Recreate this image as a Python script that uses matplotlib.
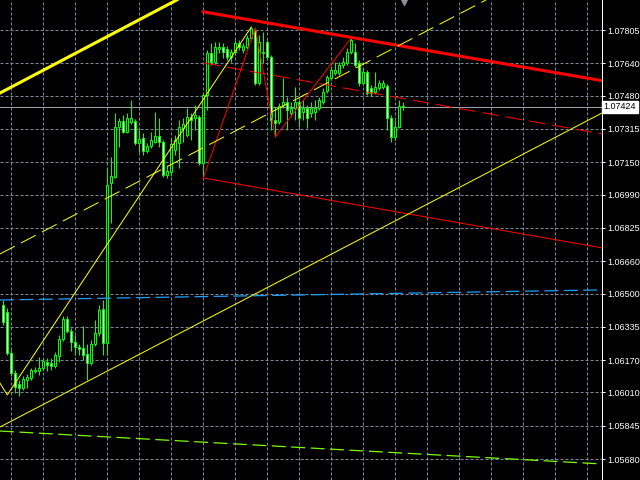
import numpy as np
import matplotlib
matplotlib.use('Agg')
import matplotlib.pyplot as plt
import matplotlib.transforms as mtransforms

plt.rcParams['font.family'] = ['Liberation Sans', 'DejaVu Sans']
plt.rcParams['lines.scale_dashes'] = False

# ------------------------------
# 1. Candle data (EURUSD style, one bar per index)
# ------------------------------
opens = [1.06443, 1.06409, 1.06206, 1.06107, 1.06052, 1.06032, 1.06072, 1.06082, 1.06116, 1.06116,
         1.06131, 1.06161, 1.06156, 1.06141, 1.06191, 1.06275, 1.06374, 1.06315, 1.06260, 1.06235,
         1.06230, 1.06201, 1.06156, 1.06250, 1.06305, 1.06424, 1.06255, 1.07048, 1.07077, 1.07325,
         1.07355, 1.07300, 1.07350, 1.07355, 1.07246, 1.07271, 1.07206, 1.07231, 1.07251, 1.07280,
         1.07251, 1.07087, 1.07102, 1.07211, 1.07246, 1.07320, 1.07285, 1.07375, 1.07370, 1.07375,
         1.07147, 1.07483, 1.07691, 1.07647, 1.07711, 1.07721, 1.07711, 1.07672, 1.07696, 1.07741,
         1.07706, 1.07721, 1.07766, 1.07805, 1.07543, 1.07696, 1.07746, 1.07672, 1.07360, 1.07350,
         1.07434, 1.07449, 1.07394, 1.07419, 1.07449, 1.07399, 1.07419, 1.07394, 1.07399, 1.07419,
         1.07449, 1.07503, 1.07568, 1.07592, 1.07592, 1.07632, 1.07642, 1.07696, 1.07696, 1.07642,
         1.07543, 1.07597, 1.07518, 1.07498, 1.07518, 1.07523, 1.07528, 1.07370, 1.07276, 1.07325,
         1.07429]
highs = [1.06468, 1.06428, 1.06220, 1.06121, 1.06072, 1.06092, 1.06102, 1.06131, 1.06136, 1.06186,
         1.06176, 1.06181, 1.06181, 1.06210, 1.06295, 1.06389, 1.06389, 1.06329, 1.06295, 1.06250,
         1.06339, 1.06250, 1.06270, 1.06369, 1.06443, 1.06468, 1.07122, 1.07176, 1.07394, 1.07370,
         1.07384, 1.07394, 1.07459, 1.07365, 1.07310, 1.07295, 1.07246, 1.07300, 1.07399, 1.07370,
         1.07261, 1.07137, 1.07271, 1.07285, 1.07360, 1.07370, 1.07419, 1.07394, 1.07434, 1.07384,
         1.07493, 1.07706, 1.07741, 1.07746, 1.07746, 1.07741, 1.07726, 1.07711, 1.07756, 1.07756,
         1.07741, 1.07781, 1.07820, 1.07815, 1.07781, 1.07795, 1.07756, 1.07681, 1.07424, 1.07444,
         1.07568, 1.07474, 1.07449, 1.07523, 1.07459, 1.07459, 1.07434, 1.07449, 1.07459, 1.07474,
         1.07518, 1.07583, 1.07627, 1.07647, 1.07647, 1.07672, 1.07716, 1.07766, 1.07741, 1.07657,
         1.07617, 1.07607, 1.07533, 1.07597, 1.07558, 1.07558, 1.07538, 1.07384, 1.07360, 1.07459,
         1.07449]
lows = [1.06344, 1.06196, 1.06092, 1.06008, 1.05993, 1.06022, 1.06032, 1.06072, 1.06107, 1.06097,
        1.06121, 1.06116, 1.06121, 1.06131, 1.06161, 1.06265, 1.06305, 1.06215, 1.06196, 1.06196,
        1.06171, 1.06072, 1.06146, 1.06240, 1.06290, 1.06196, 1.06196, 1.06850, 1.07072, 1.07226,
        1.07295, 1.07295, 1.07340, 1.07236, 1.07201, 1.07186, 1.07196, 1.07221, 1.07246, 1.07226,
        1.07077, 1.07072, 1.07082, 1.07186, 1.07122, 1.07251, 1.07276, 1.07261, 1.07310, 1.07137,
        1.07072, 1.07409, 1.07632, 1.07637, 1.07691, 1.07667, 1.07657, 1.07647, 1.07681, 1.07706,
        1.07691, 1.07711, 1.07756, 1.07533, 1.07533, 1.07642, 1.07657, 1.07310, 1.07276, 1.07340,
        1.07419, 1.07310, 1.07380, 1.07360, 1.07325, 1.07360, 1.07320, 1.07375, 1.07360, 1.07409,
        1.07439, 1.07493, 1.07558, 1.07583, 1.07583, 1.07617, 1.07632, 1.07686, 1.07622, 1.07528,
        1.07533, 1.07483, 1.07478, 1.07488, 1.07508, 1.07513, 1.07310, 1.07251, 1.07261, 1.07320,
        1.07409]
closes = [1.06359, 1.06206, 1.06107, 1.06037, 1.06032, 1.06077, 1.06087, 1.06121, 1.06121, 1.06131,
          1.06166, 1.06146, 1.06141, 1.06196, 1.06275, 1.06374, 1.06315, 1.06260, 1.06235, 1.06225,
          1.06196, 1.06156, 1.06250, 1.06305, 1.06419, 1.06255, 1.07038, 1.07082, 1.07325, 1.07355,
          1.07300, 1.07370, 1.07370, 1.07246, 1.07266, 1.07206, 1.07231, 1.07261, 1.07280, 1.07251,
          1.07087, 1.07107, 1.07241, 1.07261, 1.07325, 1.07340, 1.07375, 1.07360, 1.07384, 1.07147,
          1.07483, 1.07691, 1.07647, 1.07721, 1.07721, 1.07696, 1.07672, 1.07696, 1.07741, 1.07721,
          1.07726, 1.07766, 1.07815, 1.07543, 1.07746, 1.07691, 1.07672, 1.07360, 1.07345, 1.07429,
          1.07449, 1.07409, 1.07419, 1.07449, 1.07370, 1.07419, 1.07370, 1.07419, 1.07419, 1.07459,
          1.07498, 1.07573, 1.07607, 1.07607, 1.07632, 1.07647, 1.07696, 1.07756, 1.07632, 1.07543,
          1.07597, 1.07493, 1.07493, 1.07523, 1.07543, 1.07543, 1.07370, 1.07276, 1.07325, 1.07429,
          1.07424]

current_price = 1.07424
price_ticks = [1.07805, 1.07640, 1.07480, 1.07315, 1.07150, 1.06990, 1.06825,
               1.06660, 1.06500, 1.06335, 1.06170, 1.06010, 1.05845, 1.05680]
price_labels = ['1.07805', '1.07640', '1.07480', '1.07315', '1.07150', '1.06990', '1.06825',
                '1.06660', '1.06500', '1.06335', '1.06170', '1.06010', '1.05845', '1.05680']

# ------------------------------
# 2. Drawn objects (bar index, price)
# ------------------------------
yellow_thick_x = [-0.83, 43.4]
yellow_thick_y = [1.07493, 1.07954]
red_thick_x = [50, 149.7]
red_thick_y = [1.07895, 1.07554]
red_mid_x = [50, 149.7]
red_mid_y = [1.07642, 1.07290]
red_low_x = [50, 149.7]
red_low_y = [1.07072, 1.06726]
red_zigzag_x = [50, 63, 68, 87]
red_zigzag_y = [1.07072, 1.07815, 1.07276, 1.07766]
yellow_zigzag_x = [-0.83, 1, 62]
yellow_zigzag_y = [1.06056, 1.05998, 1.07820]
yellow_dash_x = [-0.83, 120.7]
yellow_dash_y = [1.06696, 1.07954]
yellow_trend_x = [-0.83, 149.67]
yellow_trend_y = [1.05839, 1.07394]
blue_x = [-0.83, 149.67]
blue_y = [1.06468, 1.06518]
green_x = [-0.83, 149.67]
green_y = [1.05819, 1.05656]

# ------------------------------
# 3. Plot
# ------------------------------
fig = plt.figure(figsize=(6.4, 4.8), dpi=100, facecolor='black')
ax = fig.add_axes([0, 0, 602 / 640, 1])
ax.set_facecolor('black')

o = np.array(opens)
c = np.array(closes)
x = np.arange(len(o))
faces = ['black' if cc >= oo else 'white' for oo, cc in zip(o, c)]

ax.axhline(current_price, color='#a0a0a0', linewidth=0.72, zorder=1)
ax.vlines(x, lows, highs, color='#00ff00', linewidth=0.72, zorder=2)
ax.bar(x, np.abs(c - o), bottom=np.minimum(o, c), width=0.5, color=faces,
       edgecolor='#00ff00', linewidth=0.72, zorder=3)

ax.plot(yellow_thick_x, yellow_thick_y, color='#ffff00', linewidth=2.2, zorder=4)
ax.plot(red_thick_x, red_thick_y, color='#ff0000', linewidth=2.2, zorder=4)
ax.plot(red_mid_x, red_mid_y, color='#ff0000', linewidth=0.72, dashes=(12, 5), zorder=4)
ax.plot(red_low_x, red_low_y, color='#ff0000', linewidth=0.72, zorder=4)
ax.plot(red_zigzag_x, red_zigzag_y, color='#ff0000', linewidth=0.72, zorder=4)
ax.plot(yellow_zigzag_x, yellow_zigzag_y, color='#ffff00', linewidth=0.72, zorder=4)
ax.plot(yellow_dash_x, yellow_dash_y, color='#ffff00', linewidth=0.72, dashes=(12, 5), zorder=4)
ax.plot(yellow_trend_x, yellow_trend_y, color='#ffff00', linewidth=0.72, zorder=4)
ax.plot(blue_x, blue_y, color='#1ea0ff', linewidth=0.9, dashes=(10, 4), zorder=4)
ax.plot(green_x, green_y, color='#7cfc00', linewidth=0.9, dashes=(10, 4), zorder=4)

# axes / grid
ax.set_xlim(-0.83, 149.67)
ax.set_ylim(1.055766, 1.079536)
ax.set_xticks(np.arange(2, 150, 8))
ax.yaxis.tick_right()
ax.set_yticks(price_ticks)
ax.set_yticklabels(price_labels)
ax.tick_params(axis='x', length=0, labelbottom=False)
ax.tick_params(axis='y', colors='white', length=2.5, width=0.72, pad=1.2, labelsize=6.5)
ax.grid(color='#7a8898', linestyle=(0, (2.2, 1.4)), linewidth=0.72, zorder=0)
ax.set_axisbelow(True)
for side in ['top', 'left', 'bottom']:
    ax.spines[side].set_visible(False)
ax.spines['right'].set_color('white')
ax.spines['right'].set_linewidth(0.72)

# current price tag and chart shift marker
trans = mtransforms.blended_transform_factory(ax.transAxes, ax.transData)
ax.text(1.003, current_price, '1.07424', transform=trans, ha='left', va='center',
        color='black', fontsize=6.5, clip_on=False,
        bbox=dict(boxstyle='square,pad=0.2', facecolor='white', edgecolor='white'))
trans2 = mtransforms.blended_transform_factory(ax.transData, ax.transAxes)
ax.plot([100.2], [0.997], marker='v', markersize=6, color='#8a929c',
        transform=trans2, clip_on=False, zorder=5)

fig.savefig('out.png', dpi=100, facecolor='black')
